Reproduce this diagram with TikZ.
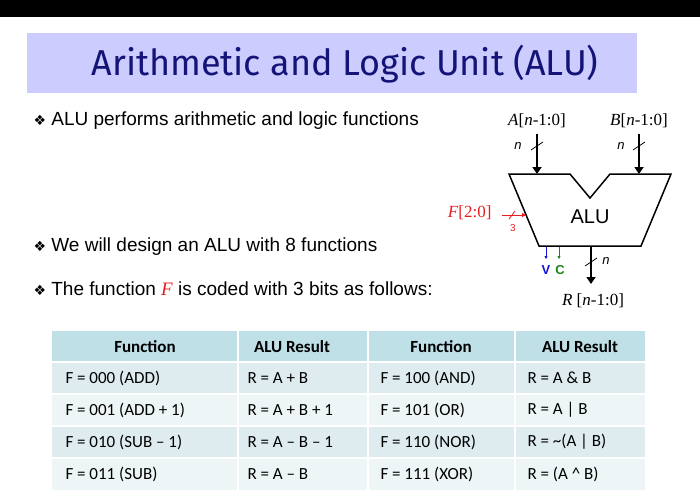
\documentclass[tikz,border=0pt]{standalone}
\usepackage{fontspec}
\setmainfont{Liberation Sans}
\newfontfamily\myCalFont{Carlito}
\newfontfamily\myTmsFont{Liberation Serif}
\newfontfamily\myDjvFont{DejaVu Sans}
\newfontfamily\myTtlFont{Fira Sans}
\usetikzlibrary{arrows.meta}
\definecolor{ttlbg}{RGB}{204,204,255}
\definecolor{ttlfg}{RGB}{20,20,120}
\definecolor{hdr}{RGB}{190,224,230}
\definecolor{rowa}{RGB}{222,236,240}
\definecolor{rowb}{RGB}{238,245,247}
\definecolor{fred}{RGB}{230,30,30}
\definecolor{vblue}{RGB}{20,20,220}
\definecolor{cgreen}{RGB}{30,130,30}
\begin{document}
\begin{tikzpicture}[x=1pt,y=-1pt,
  bul/.style={anchor=base west,font=\fontsize{19}{22}\selectfont},
  cell/.style={anchor=west,font=\myCalFont\fontsize{17}{20}\selectfont},
  hcell/.style={anchor=center,font=\myCalFont\bfseries\fontsize{17}{20}\selectfont},
  sig/.style={font=\myTmsFont\fontsize{17}{20}\selectfont},
  bus/.style={line width=2.2pt,-{Triangle[length=7pt,width=9pt]}},
  lab/.style={font=\itshape\fontsize{13}{15}\selectfont}]
\useasboundingbox (0,0) rectangle (700,499);
\fill[white] (0,0) rectangle (700,499);
\fill[black] (0,0) rectangle (700,17);
% title
\fill[ttlbg] (27,33) rectangle (637,93);
\node[font=\myTtlFont\fontsize{36}{40}\selectfont,text=ttlfg] (title) at (345,64) {Arithmetic and Logic Unit (ALU)};
% bullets
\node[bul] (b1) at (30,125) {{\myDjvFont\fontsize{14}{16}\selectfont ❖}\ ALU performs arithmetic and logic functions};
\node[bul] (b2) at (30,251) {{\myDjvFont\fontsize{14}{16}\selectfont ❖}\ We will design an ALU with 8 functions};
\node[bul] (b3) at (30,295) {{\myDjvFont\fontsize{14}{16}\selectfont ❖}\ The function {\myTmsFont\itshape\textcolor{fred}{F}} is coded with 3 bits as follows:};
% ALU
\draw[line width=1.5pt,line join=miter] (509,174) -- (570,174) -- (590,198) -- (610,174) -- (671,174) -- (641,246) -- (539,246) -- cycle;
\node[font=\fontsize{20}{24}\selectfont] (alu) at (590,217) {ALU};
\node[sig,anchor=base] (A) at (537,125) {\textit{A}[\textit{n}-1:0]};
\node[sig,anchor=base] (B) at (639,125) {\textit{B}[\textit{n}-1:0]};
\coordinate (Ain) at (537,174);
\coordinate (Bin) at (639,174);
\draw[bus] (537,134) -- (Ain);
\draw[bus] (639,134) -- (Bin);
\draw[line width=0.8pt] (531,150) -- (543,142);
\draw[line width=0.8pt] (633,150) -- (645,142);
\node[lab] (nA) at (518,146) {n};
\node[lab] (nB) at (621,146) {n};
\coordinate (Rout) at (591,284);
\draw[bus] (591,246) -- (Rout);
\draw[line width=0.8pt] (585,266) -- (597,258);
\node[lab] (nR) at (606,261) {n};
\node[sig,anchor=base] (R) at (593,305) {\textit{R} [\textit{n}-1:0]};
\coordinate (Vo) at (546,259);
\coordinate (Co) at (559,259);
\draw[vblue,line width=0.8pt,-{Triangle[length=3pt,width=3pt]}] (546,247) -- (Vo);
\draw[cgreen,line width=0.8pt,-{Triangle[length=3pt,width=3pt]}] (559,247) -- (Co);
\node[text=vblue,font=\bfseries\fontsize{13}{15}\selectfont] (V) at (546,270) {V};
\node[text=cgreen,font=\bfseries\fontsize{13}{15}\selectfont] (C) at (560,270) {C};
\node[sig,text=fred,anchor=east] (F) at (495,213) {\textit{F}[2:0]};
\coordinate (Fin) at (526,215);
\draw[fred,line width=1pt,-{Triangle[length=4pt,width=4pt]}] (502,215) -- (Fin);
\draw[fred,line width=0.8pt] (509,219) -- (515,211);
\node[text=fred,font=\fontsize{10}{12}\selectfont] (three) at (513,228) {3};
% table
\fill[hdr] (52,331) rectangle (645,362);
\fill[rowa] (52,362) rectangle (645,394);
\fill[rowb] (52,394) rectangle (645,426);
\fill[rowa] (52,426) rectangle (645,458);
\fill[rowb] (52,458) rectangle (645,490);
\foreach \x in {238,368,515} \draw[white,line width=1.2pt] (\x,331) -- (\x,490);
\foreach \y in {362,394,426,458} \draw[white,line width=1.5pt] (52,\y) -- (645,\y);
\node[hcell] (h1) at (145,347) {Function};
\node[hcell] (h2) at (292,347) {ALU Result};
\node[hcell] (h3) at (441,347) {Function};
\node[hcell] (h4) at (580,347) {ALU Result};
\node[cell] (r1a) at (62,378) {F = 000 (ADD)};
\node[cell] (r1b) at (244,378) {R = A + B};
\node[cell] (r1c) at (377,378) {F = 100 (AND)};
\node[cell] (r1d) at (524,378) {R = A \& B};
\node[cell] (r2a) at (62,410) {F = 001 (ADD + 1)};
\node[cell] (r2b) at (244,410) {R = A + B + 1};
\node[cell] (r2c) at (377,410) {F = 101 (OR)};
\node[cell] (r2d) at (524,410) {R = A | B};
\node[cell] (r3a) at (62,442) {F = 010 (SUB – 1)};
\node[cell] (r3b) at (244,442) {R = A – B – 1};
\node[cell] (r3c) at (377,442) {F = 110 (NOR)};
\node[cell] (r3d) at (524,442) {R = \textasciitilde(A | B)};
\node[cell] (r4a) at (62,474) {F = 011 (SUB)};
\node[cell] (r4b) at (244,474) {R = A – B};
\node[cell] (r4c) at (377,474) {F = 111 (XOR)};
\node[cell] (r4d) at (524,474) {R = (A \textasciicircum\ B)};
\end{tikzpicture}
\end{document}
